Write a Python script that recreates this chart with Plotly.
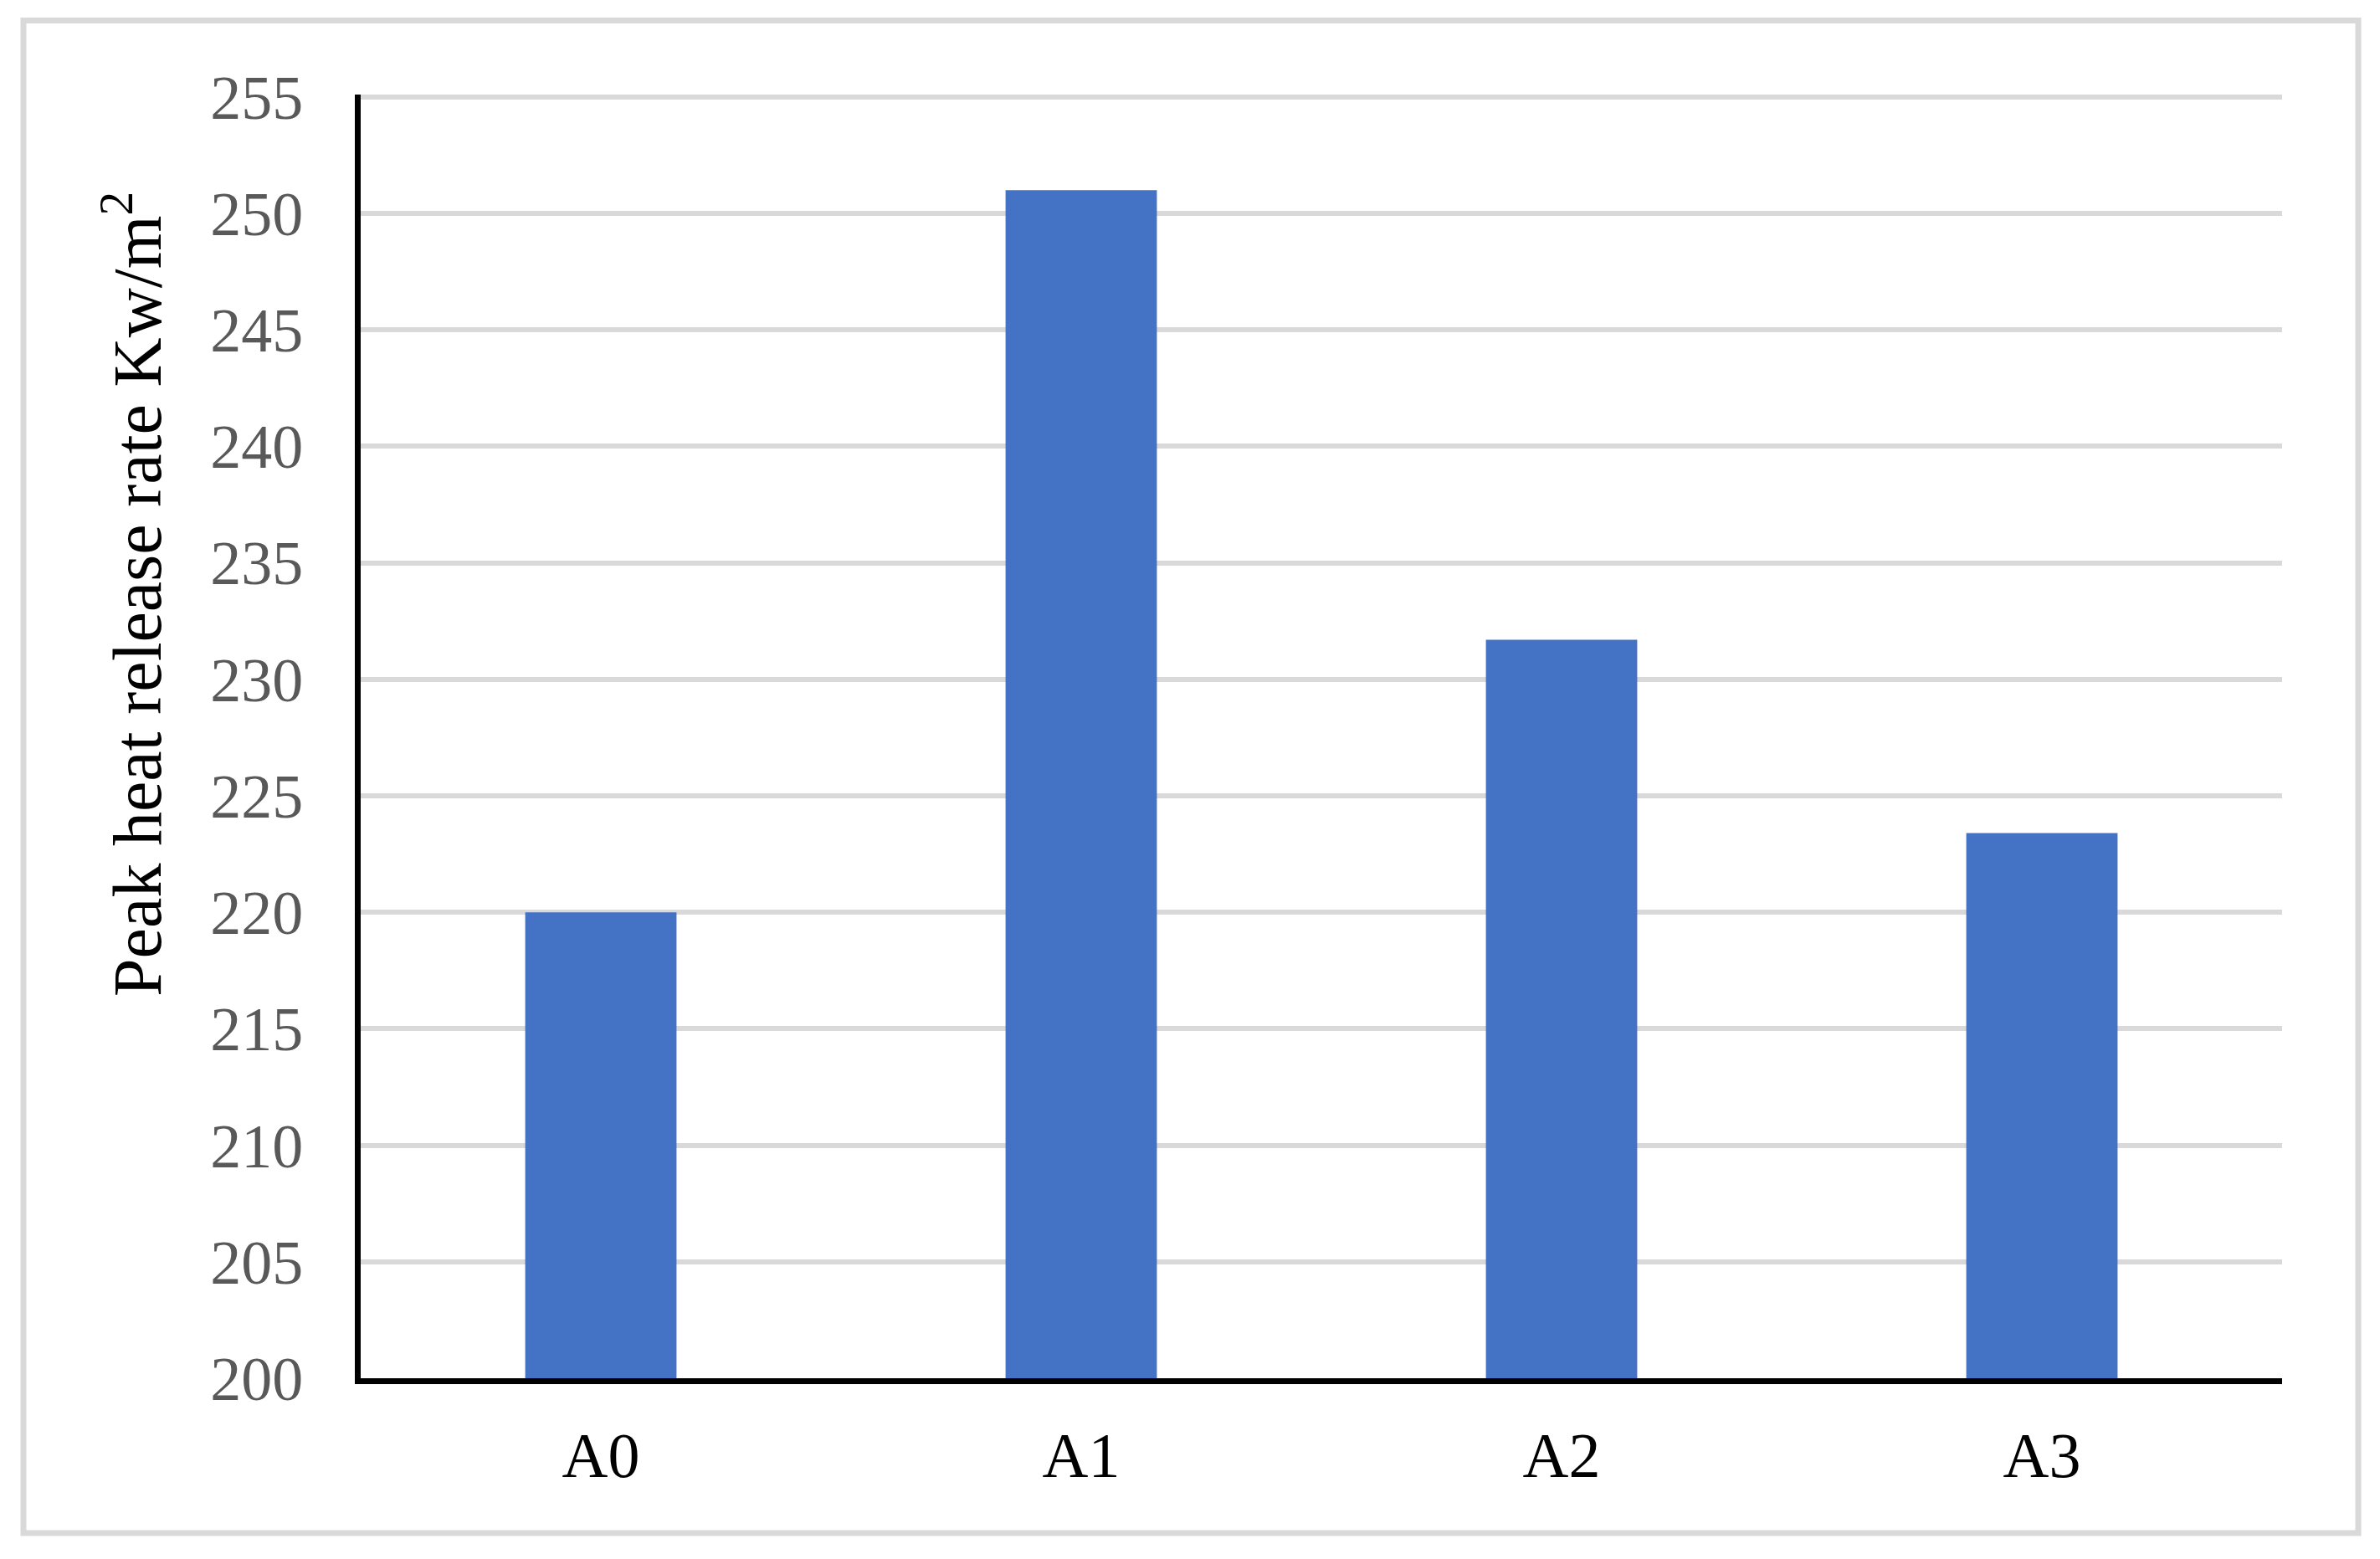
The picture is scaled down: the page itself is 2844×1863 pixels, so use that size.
import plotly.graph_objects as go

categories = ["A0", "A1", "A2", "A3"]
peak_hrr = [220.0, 251.0, 231.7, 223.4]
y_ticks = [200, 205, 210, 215, 220, 225, 230, 235, 240, 245, 250, 255]

# page body has an 8px margin, compensate so that page pixels match the reference
OFF = 8
W, H = 2844 - OFF, 1863 - OFF
L, R, T, B = 431, 2727, 113, 1647   # plot area in page pixels

def px(x):
    return (x - L) / (R - L)

def py(y):
    return (B - y) / (B - T)

fig = go.Figure()
fig.add_trace(go.Bar(x=categories, y=peak_hrr, marker=dict(color="#4472c4", line=dict(width=0))))

fig.update_layout(
    width=W, height=H,
    margin=dict(l=L - OFF, r=W + OFF - R, t=T - OFF, b=H + OFF - B, pad=0),
    paper_bgcolor="white", plot_bgcolor="white",
    bargap=0.685,
    showlegend=False,
    font=dict(family="Liberation Serif, Times New Roman, serif"),
    xaxis=dict(
        showline=True, linecolor="black", linewidth=7,
        showgrid=False, ticks="",
        tickfont=dict(size=76, color="black"),
        ticklabelstandoff=20,
    ),
    yaxis=dict(
        range=[200, 255.1], tickvals=y_ticks,
        showline=True, linecolor="black", linewidth=7,
        showgrid=True, gridcolor="#d9d9d9", gridwidth=6,
        zeroline=False, ticks="",
        tickfont=dict(size=74, color="#595959"),
        ticklabelstandoff=47,
    ),
    annotations=[dict(
        text="Peak heat release rate Kw/m<sup>2</sup>",
        textangle=-90, xref="paper", yref="paper",
        x=px(158), y=py(710), xanchor="center", yanchor="middle",
        showarrow=False, font=dict(size=82, color="black"),
    )],
    shapes=[dict(
        type="rect", xref="paper", yref="paper",
        x0=px(28), x1=px(2818), y0=py(1832), y1=py(24.5),
        line=dict(color="#d9d9d9", width=7), layer="below",
    )],
)

fig.write_html("out.html")
